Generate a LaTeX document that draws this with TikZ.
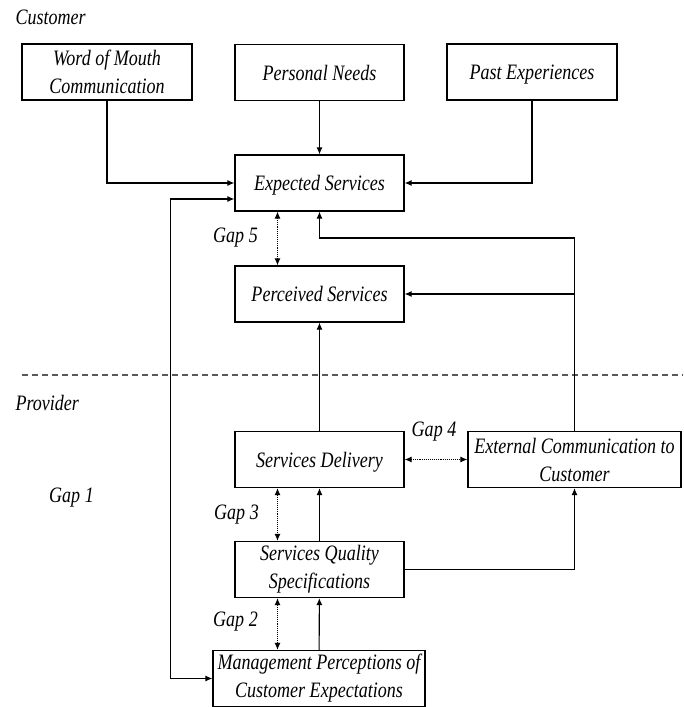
\documentclass[tikz,border=0pt]{standalone}
\usepackage{fontspec}
\setmainfont{Liberation Serif}[FakeStretch=0.82]
\usetikzlibrary{arrows.meta}

\tikzset{
    gapbox/.style={draw, line width=1.2pt, align=center, inner sep=0pt,
        minimum height=56pt},
    oneline/.style={text height=19pt, text depth=4pt},
    gaptext/.style={inner sep=0pt},
}

\begin{document}
\begin{tikzpicture}[x=1pt, y=-1pt, line width=1.1pt,
        font=\fontsize{22}{28}\selectfont\itshape,
        >={Latex[length=7pt,width=6pt]}]
        \useasboundingbox (0,0) rectangle (683,707);

        % === CUSTOMER SIDE ===
        \node[gaptext, anchor=west] (cust) at (15,17) {Customer};
        \node[gapbox, minimum width=170pt] (wom) at (107,72) {Word of Mouth\\Communication};
        \node[gapbox, oneline, minimum width=169pt] (need) at (319.5,72.5) {Personal Needs};
        \node[gapbox, oneline, minimum width=170pt] (past) at (532,72) {Past Experiences};
        \node[gapbox, oneline, minimum width=169pt] (exp) at (319.5,183) {Expected Services};
        \node[gapbox, oneline, minimum width=169pt] (perc) at (319.5,294) {Perceived Services};

        % === BORDER LINE ===
        \draw[line width=2pt, black!65, dash pattern=on 6pt off 4pt]
            (22,375) -- (683,375);

        % === PROVIDER SIDE ===
        \node[gaptext, anchor=west] (prov) at (15,403) {Provider};
        \node[gapbox, oneline, minimum width=169pt] (deliv) at (319.5,459.5) {Services Delivery};
        \node[gapbox, minimum width=213pt] (ext) at (574.5,459.5) {External Communication to\\Customer};
        \node[gapbox, minimum width=169pt] (spec) at (319.5,569.5) {Services Quality\\Specifications};
        \node[gapbox, minimum width=212pt] (mgmt) at (319,678.5) {Management Perceptions of\\Customer Expectations};

        % === INFLUENCES ON EXPECTATIONS ===
        \draw[->] (wom.south) |- (exp.west);
        \draw[->] (need) -- (exp);
        \draw[->] (past.south) |- (exp.east);

        % === PROVIDER FLOWS ===
        \coordinate (fb) at (574.5,238);
        \draw[->] (ext.north) -- (fb) -| (exp.south);
        \draw[->] (ext.north |- perc.east) -- (perc.east);
        \draw[->] (deliv) -- (perc);
        \draw[->] (spec) -- (deliv);
        \draw[->] (spec.east) -| (ext.south);
        \draw[->] (mgmt) -- (spec);
        \draw[<->] ([yshift=-16pt]exp.west) -| ([xshift=-42pt]mgmt.west) -- (mgmt.west);

        % === GAPS ===
        \draw[<->, densely dotted] ([xshift=-42pt]exp.south) -- ([xshift=-42pt]perc.north);
        \draw[<->, densely dotted] (deliv.east) -- (ext.west);
        \draw[<->, densely dotted] ([xshift=-42pt]deliv.south) -- ([xshift=-42pt]spec.north);
        \draw[<->, densely dotted] ([xshift=-42pt]spec.south) -- ([xshift=-41.5pt]mgmt.north);
        \node[gaptext] (g5) at (235.5,238) {Gap 5};
        \node[gaptext] (g4) at (434,432) {Gap 4};
        \node[gaptext] (g1) at (71.5,498) {Gap 1};
        \node[gaptext] (g3) at (236.5,515) {Gap 3};
        \node[gaptext] (g2) at (235.5,622) {Gap 2};

    \end{tikzpicture}
\end{document}
